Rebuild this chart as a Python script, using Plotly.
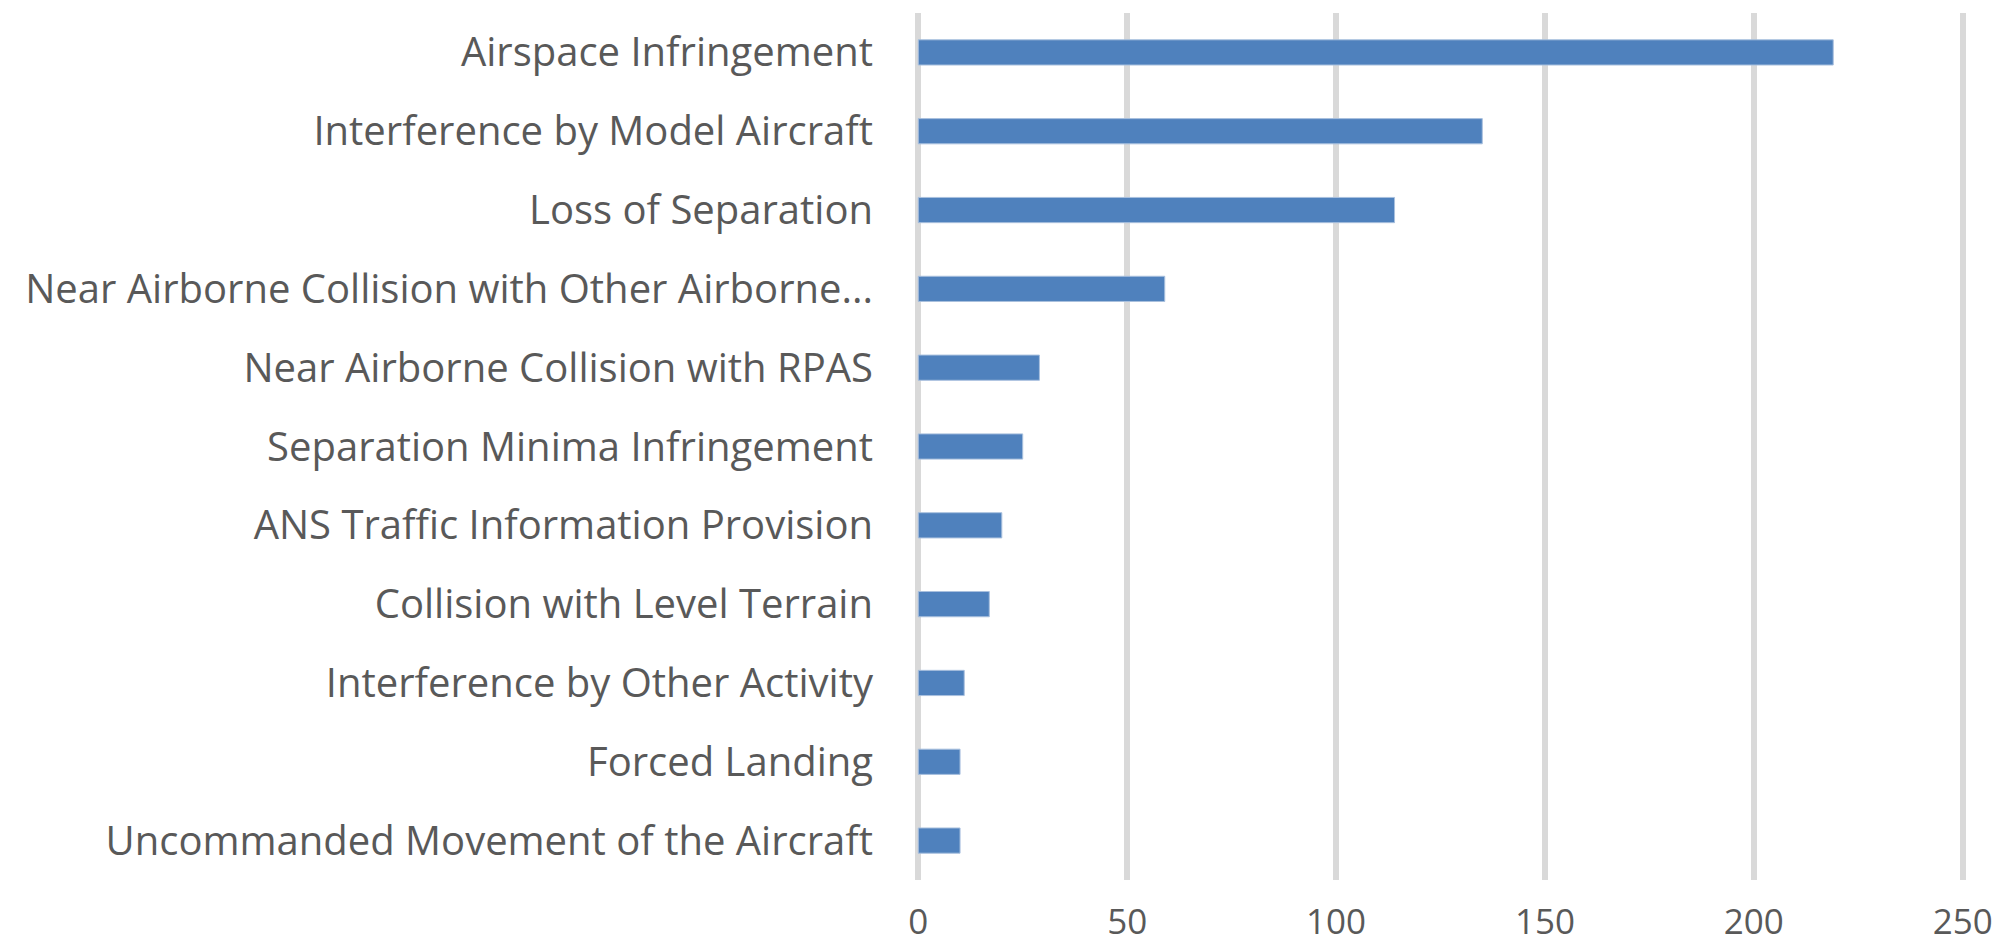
import plotly.graph_objects as go

categories = [
    "Airspace Infringement",
    "Interference by Model Aircraft",
    "Loss of Separation",
    "Near Airborne Collision with Other Airborne...",
    "Near Airborne Collision with RPAS",
    "Separation Minima Infringement",
    "ANS Traffic Information Provision",
    "Collision with Level Terrain",
    "Interference by Other Activity",
    "Forced Landing",
    "Uncommanded Movement of the Aircraft",
]
values = [219, 135, 114, 59, 29, 25, 20, 17, 11, 10, 10]
x_ticks = [0, 50, 100, 150, 200, 250]

fig = go.Figure(
    go.Bar(
        x=values,
        y=categories,
        orientation="h",
        marker=dict(color="#4f81bd", line=dict(color="#a9c0de", width=1)),
        width=0.32,
    )
)

# page body has an 8px default margin, so the figure is sized to fit the window
fig.update_layout(
    width=1996,
    height=936,
    margin=dict(l=904, r=35, t=5, b=64, autoexpand=False),
    paper_bgcolor="white",
    plot_bgcolor="white",
    showlegend=False,
    font=dict(family="Open Sans", size=40, color="#595959"),
)
fig.update_xaxes(
    range=[-1.5, 251.5],
    tickvals=x_ticks,
    showgrid=True,
    gridcolor="#d9d9d9",
    gridwidth=6,
    zeroline=False,
    showline=False,
    ticks="",
    automargin=False,
    ticklabelstandoff=18,
    tickfont=dict(size=35, color="#595959"),
)
fig.update_yaxes(
    categoryorder="array",
    categoryarray=categories,
    range=[10.5, -0.5],
    showgrid=False,
    zeroline=False,
    showline=False,
    ticks="",
    automargin=False,
    ticklabelstandoff=38,
    tickfont=dict(size=40, color="#595959"),
)

fig.write_html("out.html")
